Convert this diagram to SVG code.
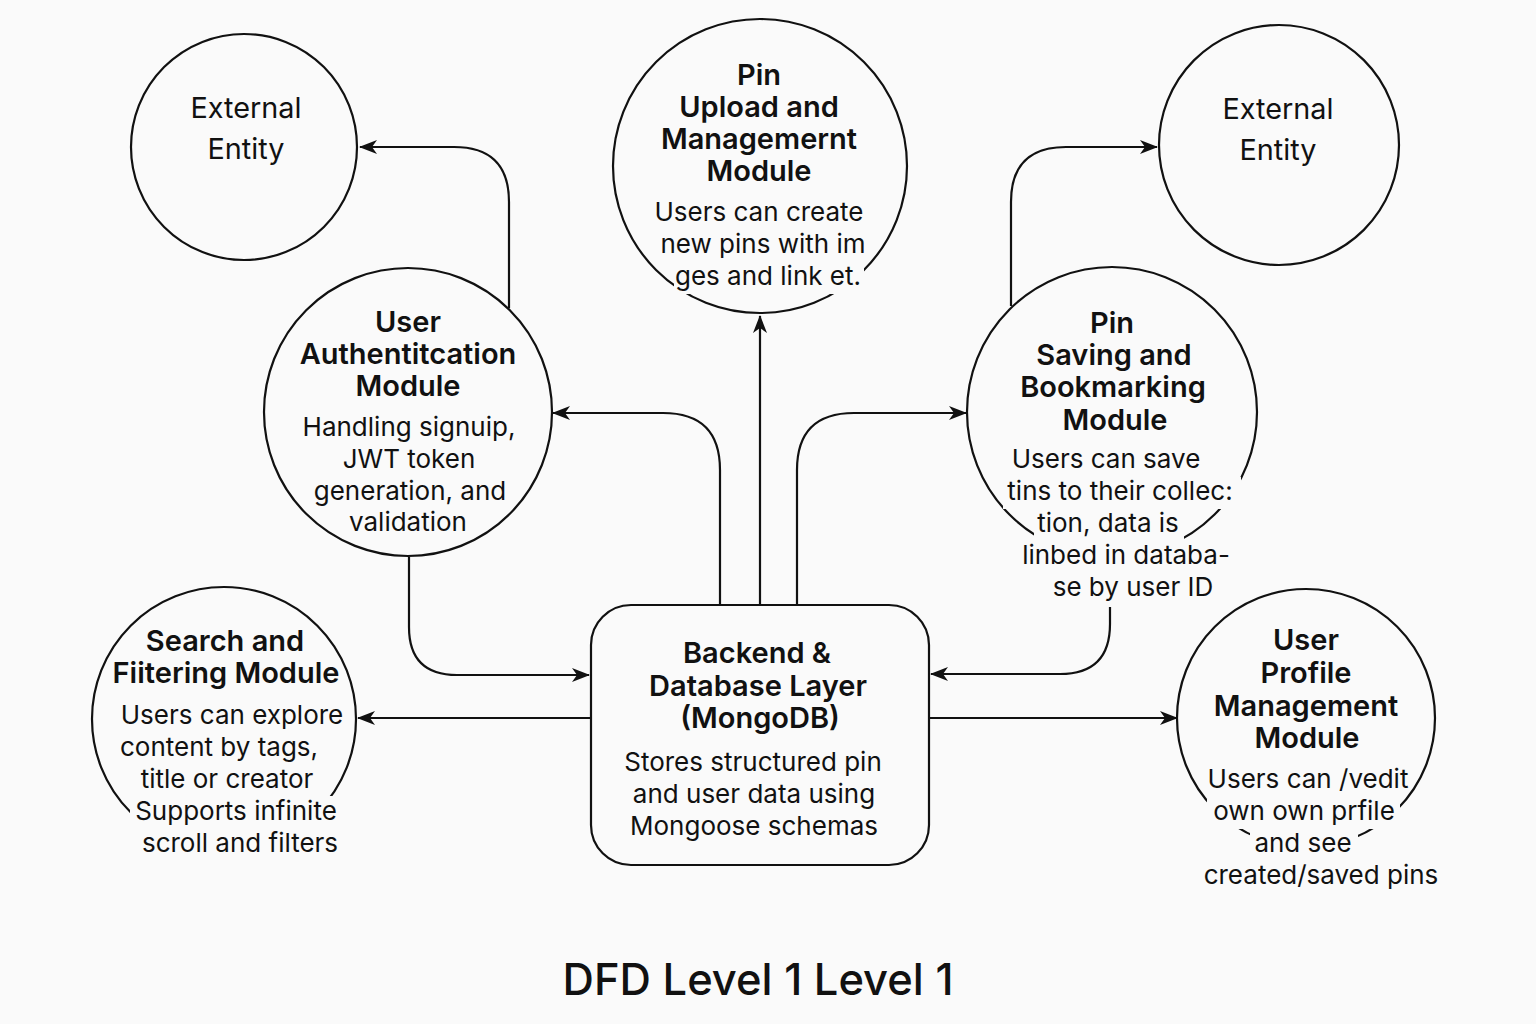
<svg xmlns="http://www.w3.org/2000/svg" width="1536" height="1024" viewBox="0 0 1536 1024">
<style>
  .node { fill: none; stroke: #111; stroke-width: 2.2; }
  .conn { fill: none; stroke: #111; stroke-width: 2.2; }
  .bg { fill: #fafafa; stroke: none; }
  text { font-family: Inter, "Liberation Sans", sans-serif; fill: #111; text-anchor: middle; }
  .ent { font-size: 28.8px; font-weight: 400; }
  .ttl { font-size: 29px; font-weight: 600; }
  .body { font-size: 26px; font-weight: 400; }
  .title { font-size: 43.5px; font-weight: 500; }
</style>
<defs>
  <marker id="arr" viewBox="0 0 18 14" refX="17" refY="7" markerWidth="18" markerHeight="14" markerUnits="userSpaceOnUse" orient="auto">
    <path d="M0,0 L18,7 L0,14 L5,7 z" fill="#111"/>
  </marker>
</defs>
<rect x="0" y="0" width="1536" height="1024" fill="#fafafa"/>

<g id="connectors">
  <path class="conn" d="M509,308 V202 Q509,147 454,147 H360" marker-end="url(#arr)"/>
  <path class="conn" d="M1011,306 V202 Q1011,147 1066,147 H1157" marker-end="url(#arr)"/>
  <path class="conn" d="M720,605 V470 Q720,413 663,413 H553" marker-end="url(#arr)"/>
  <path class="conn" d="M760,605 V316" marker-end="url(#arr)"/>
  <path class="conn" d="M797,605 V470 Q797,413 854,413 H966" marker-end="url(#arr)"/>
  <path class="conn" d="M409,557 V627 Q409,675 457,675 H589" marker-end="url(#arr)"/>
  <path class="conn" d="M1110,607 V624 Q1110,674 1060,674 H931" marker-end="url(#arr)"/>
  <path class="conn" d="M590,718 H358" marker-end="url(#arr)"/>
  <path class="conn" d="M930,718 H1177" marker-end="url(#arr)"/>
</g>

<g id="ext-left">
  <circle class="node" cx="244" cy="147" r="113"/>
  <text class="ent" x="246" y="118">External</text>
  <text class="ent" x="246" y="159">Entity</text>
</g>

<g id="ext-right">
  <circle class="node" cx="1279" cy="145" r="120"/>
  <text class="ent" x="1278" y="119">External</text>
  <text class="ent" x="1278" y="160">Entity</text>
</g>

<g id="pin-upload">
  <circle class="node" cx="760" cy="166" r="147"/>
  <rect class="bg" x="674" y="262" width="190" height="32"/>
  <text class="ttl" x="759" y="85">Pin</text>
  <text class="ttl" x="759" y="117">Upload and</text>
  <text class="ttl" x="759" y="149">Managemernt</text>
  <text class="ttl" x="759" y="181">Module</text>
  <text class="body" x="759" y="221">Users can create</text>
  <text class="body" x="763" y="253">new pins with im</text>
  <text class="body" x="768" y="285">ges and link et.</text>
</g>

<g id="user-auth">
  <circle class="node" cx="408" cy="412" r="144"/>
  <text class="ttl" x="408" y="332">User</text>
  <text class="ttl" x="408" y="364">Authentitcation</text>
  <text class="ttl" x="408" y="396">Module</text>
  <text class="body" x="409" y="436">Handling signuip,</text>
  <text class="body" x="409" y="468">JWT token</text>
  <text class="body" x="410" y="500">generation, and</text>
  <text class="body" x="408" y="531">validation</text>
</g>

<g id="pin-saving">
  <circle class="node" cx="1112" cy="412" r="145"/>
  <rect class="bg" x="1003" y="477" width="238" height="32"/>
  <rect class="bg" x="1034" y="509" width="150" height="32"/>
  <rect class="bg" x="1020" y="541" width="212" height="32"/>
  <rect class="bg" x="1050" y="573" width="167" height="32"/>
  <text class="ttl" x="1112" y="333">Pin</text>
  <text class="ttl" x="1114" y="365">Saving and</text>
  <text class="ttl" x="1113" y="397">Bookmarking</text>
  <text class="ttl" x="1115" y="430">Module</text>
  <text class="body" x="1106" y="468">Users can save</text>
  <text class="body" x="1120" y="500">tins to their collec:</text>
  <text class="body" x="1108" y="532">tion, data is</text>
  <text class="body" x="1126" y="564">linbed in databa-</text>
  <text class="body" x="1133" y="596">se by user ID</text>
</g>

<g id="search">
  <circle class="node" cx="224" cy="719" r="132"/>
  <rect class="bg" x="130" y="796" width="213" height="33"/>
  <rect class="bg" x="137" y="828" width="206" height="33"/>
  <text class="ttl" x="225" y="651">Search and</text>
  <text class="ttl" x="226" y="683">Fiitering Module</text>
  <text class="body" x="232" y="724">Users can explore</text>
  <text class="body" x="219" y="756">content by tags,</text>
  <text class="body" x="227" y="788">title or creator</text>
  <text class="body" x="236" y="820">Supports infinite</text>
  <text class="body" x="240" y="852">scroll and filters</text>
</g>

<g id="profile">
  <circle class="node" cx="1306" cy="718" r="129"/>
  <rect class="bg" x="1207" y="797" width="193" height="32"/>
  <rect class="bg" x="1250" y="829" width="108" height="32"/>
  <text class="ttl" x="1306" y="650">User</text>
  <text class="ttl" x="1306" y="683">Profile</text>
  <text class="ttl" x="1306" y="716">Management</text>
  <text class="ttl" x="1307" y="748">Module</text>
  <text class="body" x="1308" y="788">Users can /vedit</text>
  <text class="body" x="1304" y="820">own own prfile</text>
  <text class="body" x="1303" y="852">and see</text>
  <text class="body" x="1321" y="884">created/saved pins</text>
</g>

<g id="backend">
  <rect class="node" x="591" y="605" width="338" height="260" rx="40" ry="40"/>
  <text class="ttl" x="757" y="663">Backend &amp;</text>
  <text class="ttl" x="758" y="696">Database Layer</text>
  <text class="ttl" x="760" y="728">(MongoDB)</text>
  <text class="body" x="753" y="771">Stores structured pin</text>
  <text class="body" x="754" y="803">and user data using</text>
  <text class="body" x="754" y="835">Mongoose schemas</text>
</g>

<text class="title" x="758" y="995">DFD Level 1 Level 1</text>
</svg>
